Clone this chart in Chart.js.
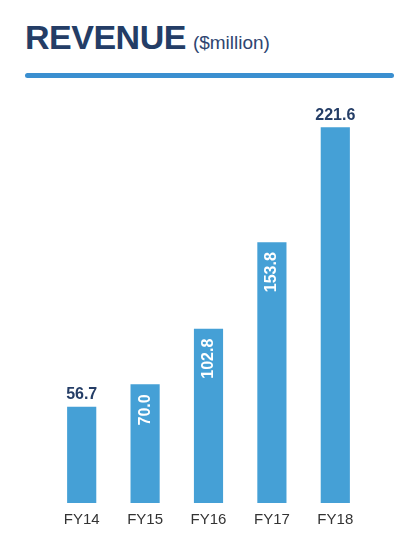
<!DOCTYPE html>
<html>
<head>
<meta charset="utf-8">
<script src="https://cdn.jsdelivr.net/npm/chart.js@4"></script>
<style>
  html, body { margin: 0; padding: 0; background: #fff; }
  #wrap { position: relative; width: 420px; height: 560px; }
  #title { position: absolute; left: 25px; top: 18px; font-family: "Liberation Sans", Arial, sans-serif; color: #243d66; white-space: nowrap; }
  #title b { font-size: 34px; font-weight: bold; letter-spacing: -0.5px; }
  #title span { font-size: 19px; margin-left: 7px; color: #2e4571; }
  #rule { position: absolute; left: 25px; top: 73px; width: 369px; height: 5px; background: #3b8fd0; border-radius: 3px; }
  canvas { position: absolute; left: 0; top: 0; }
</style>
</head>
<body>
<div id="wrap">
  <div id="title"><b>REVENUE</b><span>($million)</span></div>
  <div id="rule"></div>
  <canvas id="revChart" width="420" height="560"></canvas>
</div>
<script>
const years = ['FY14', 'FY15', 'FY16', 'FY17', 'FY18'];
const revenue = [56.7, 70.0, 102.8, 153.8, 221.6];
const labelInside = [false, true, true, true, false];

// value labels: above the bar, or rotated inside the top of the bar
const valueLabels = {
  id: 'valueLabels',
  afterDatasetsDraw(chart) {
    const ctx = chart.ctx;
    const meta = chart.getDatasetMeta(0);
    ctx.save();
    ctx.font = 'bold 16px "Liberation Sans", Arial, sans-serif';
    meta.data.forEach(function(bar, i) {
      const txt = revenue[i].toFixed(1);
      if (labelInside[i]) {
        ctx.save();
        ctx.translate(bar.x, bar.y + 10);
        ctx.rotate(-Math.PI / 2);
        ctx.fillStyle = '#ffffff';
        ctx.textAlign = 'right';
        ctx.textBaseline = 'middle';
        ctx.fillText(txt, 0, 0);
        ctx.restore();
      } else {
        ctx.fillStyle = '#243d66';
        ctx.textAlign = 'center';
        ctx.textBaseline = 'bottom';
        ctx.fillText(txt, bar.x, bar.y - 4);
      }
    });
    ctx.restore();
  }
};

const ctx = document.getElementById('revChart').getContext('2d');
const revChart = new Chart(ctx, {
  type: 'bar',
  data: {
    labels: years,
    datasets: [{
      data: revenue,
      backgroundColor: '#45a0d6',
      borderWidth: 0,
      categoryPercentage: 1,
      barPercentage: 0.46
    }]
  },
  options: {
    responsive: false,
    animation: false,
    layout: { padding: { left: 50, right: 53, top: 96, bottom: 31 } },
    plugins: { legend: { display: false }, tooltip: { enabled: false } },
    scales: {
      x: {
        grid: { display: false },
        border: { display: false },
        ticks: {
          padding: 0,
          color: '#333333',
          font: { family: '"Liberation Sans", Arial, sans-serif', size: 15 }
        }
      },
      y: { display: false, min: 0, max: 240 }
    }
  },
  plugins: [valueLabels]
});
</script>
</body>
</html>
